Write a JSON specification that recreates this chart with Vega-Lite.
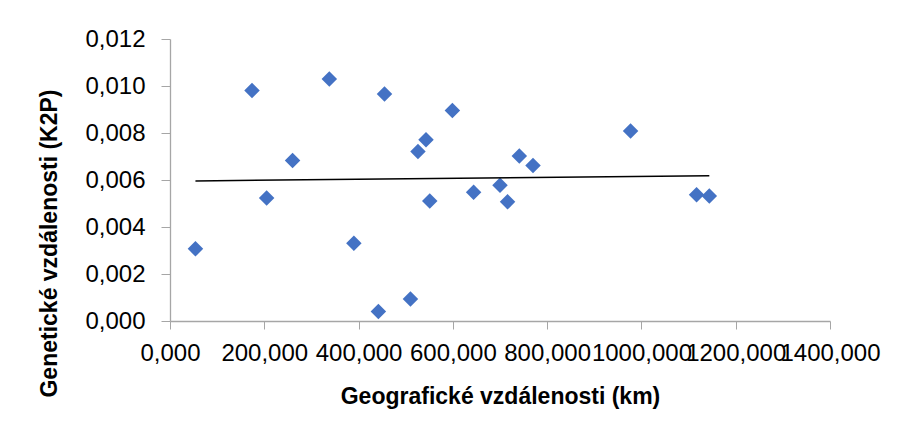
{
  "$schema": "https://vega.github.io/schema/vega-lite/v6.json",
  "width": 660,
  "height": 282,
  "autosize": {"type": "none"},
  "padding": {"left": 170, "top": 39, "right": 67, "bottom": 117},
  "background": "white",
  "config": {
    "view": {"stroke": null},
    "locale": {"number": {"decimal": ",", "thousands": "", "grouping": [3], "currency": ["", ""]}},
    "font": "Liberation Sans"
  },
  "data": {"values": [
    {"km": 54, "k2p": 0.00307},
    {"km": 174, "k2p": 0.00981},
    {"km": 205, "k2p": 0.00523},
    {"km": 260, "k2p": 0.00683},
    {"km": 338, "k2p": 0.01030},
    {"km": 390, "k2p": 0.00331},
    {"km": 442, "k2p": 0.00040},
    {"km": 455, "k2p": 0.00966},
    {"km": 510, "k2p": 0.00094},
    {"km": 526, "k2p": 0.00721},
    {"km": 543, "k2p": 0.00771},
    {"km": 551, "k2p": 0.00511},
    {"km": 599, "k2p": 0.00896},
    {"km": 644, "k2p": 0.00548},
    {"km": 700, "k2p": 0.00578},
    {"km": 716, "k2p": 0.00507},
    {"km": 741, "k2p": 0.00702},
    {"km": 770, "k2p": 0.00662},
    {"km": 977, "k2p": 0.00809},
    {"km": 1117, "k2p": 0.00537},
    {"km": 1144, "k2p": 0.00532}
  ]},
  "encoding": {
    "x": {
      "field": "km", "type": "quantitative",
      "scale": {"domain": [0, 1400], "nice": false, "zero": false},
      "axis": {
        "title": "Geografické vzdálenosti (km)",
        "values": [0, 200, 400, 600, 800, 1000, 1200, 1400],
        "format": ".3f",
        "grid": false,
        "labelOverlap": false,
        "labelFlush": false,
        "labelFontSize": 24,
        "labelColor": "#000000",
        "labelPadding": 12,
        "tickSize": 8,
        "tickColor": "#A6A6A6",
        "domainColor": "#A6A6A6",
        "domainWidth": 1.3,
        "titleFontSize": 23,
        "titleFontWeight": "bold",
        "titleColor": "#000000",
        "titleBaseline": "middle",
        "titleX": 330,
        "titleY": 75
      }
    },
    "y": {
      "field": "k2p", "type": "quantitative",
      "scale": {"domain": [0, 0.012], "nice": false},
      "axis": {
        "title": "Genetické vzdálenosti (K2P)",
        "values": [0, 0.002, 0.004, 0.006, 0.008, 0.01, 0.012],
        "format": ".3f",
        "grid": false,
        "labelFontSize": 24,
        "labelColor": "#000000",
        "labelPadding": 16,
        "tickSize": 9,
        "tickColor": "#A6A6A6",
        "domainColor": "#A6A6A6",
        "domainWidth": 1.3,
        "titleFontSize": 23,
        "titleFontWeight": "bold",
        "titleColor": "#000000",
        "titleAngle": 270,
        "titleAlign": "center",
        "titleBaseline": "middle",
        "titleX": -121,
        "titleY": 204
      }
    }
  },
  "layer": [
    {
      "mark": {"type": "point", "shape": "diamond", "filled": true, "size": 240, "color": "#4472C4", "opacity": 1}
    },
    {
      "transform": [{"regression": "k2p", "on": "km", "extent": [54, 1144]}],
      "mark": {"type": "line", "color": "#000000", "strokeWidth": 1.5}
    }
  ]
}
